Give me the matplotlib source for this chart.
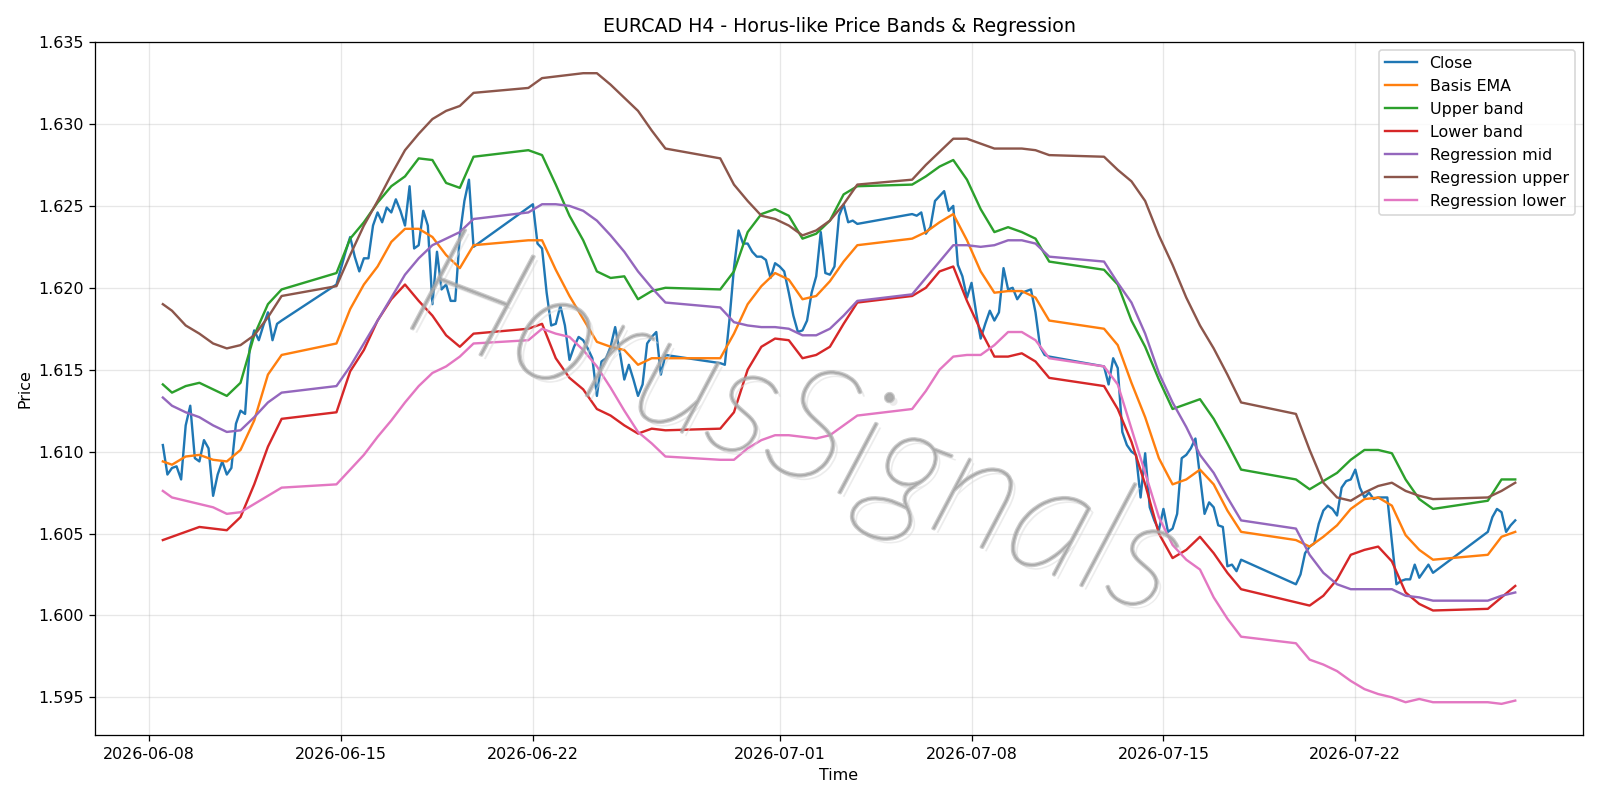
import numpy as np
import pandas as pd
import matplotlib
matplotlib.use("Agg")
import matplotlib.pyplot as plt
import matplotlib.patheffects as pe

# Close price, one value per H4 bar (week by week, Sun 20:00 -> Fri 20:00)
close = [
    # week of 06-08 (starts Mon 12:00)
    1.6104, 1.6086, 1.6090, 1.6091, 1.6083, 1.6116, 1.6128, 1.6096, 1.6094, 1.6107,
    1.6102, 1.6073, 1.6086, 1.6094, 1.6086, 1.6090, 1.6117, 1.6125, 1.6123, 1.6163,
    1.6174, 1.6168, 1.6177, 1.6185, 1.6168, 1.6178, 1.6180,
    # week of 06-15
    1.6202, 1.6212, 1.6222, 1.6231, 1.6219, 1.6210, 1.6218, 1.6218, 1.6238, 1.6246,
    1.6240, 1.6249, 1.6246, 1.6254, 1.6247, 1.6238, 1.6262, 1.6224, 1.6226, 1.6247,
    1.6238, 1.6190, 1.6222, 1.6199, 1.6202, 1.6192, 1.6192, 1.6232, 1.6253, 1.6266,
    1.6225,
    # week of 06-22
    1.6249, 1.6251, 1.6227, 1.6224, 1.6197, 1.6177, 1.6178, 1.6189, 1.6177, 1.6156,
    1.6164, 1.6170, 1.6168, 1.6163, 1.6157, 1.6134, 1.6155, 1.6157, 1.6164, 1.6176,
    1.6161, 1.6144, 1.6153, 1.6144, 1.6134, 1.6141, 1.6166, 1.6170, 1.6173, 1.6147,
    1.6159,
    # week of 06-29
    1.6154, 1.6153, 1.6180, 1.6212, 1.6235, 1.6227, 1.6227, 1.6222, 1.6219, 1.6219,
    1.6217, 1.6206, 1.6215, 1.6213, 1.6210, 1.6197, 1.6183, 1.6173, 1.6174, 1.6180,
    1.6197, 1.6207, 1.6234, 1.6209, 1.6208, 1.6213, 1.6244, 1.6251, 1.6240, 1.6241,
    1.6239,
    # week of 07-06
    1.6245, 1.6244, 1.6246, 1.6233, 1.6237, 1.6253, 1.6256, 1.6259, 1.6247, 1.6250,
    1.6214, 1.6207, 1.6194, 1.6203, 1.6185, 1.6169, 1.6178, 1.6186, 1.6180, 1.6185,
    1.6212, 1.6199, 1.6200, 1.6193, 1.6197, 1.6198, 1.6199, 1.6185, 1.6164, 1.6159,
    1.6158,
    # week of 07-13
    1.6152, 1.6141, 1.6157, 1.6151, 1.6112, 1.6104, 1.6100, 1.6098, 1.6072, 1.6099,
    1.6066, 1.6058, 1.6052, 1.6065, 1.6051, 1.6053, 1.6062, 1.6096, 1.6098, 1.6102,
    1.6108, 1.6085, 1.6062, 1.6069, 1.6066, 1.6055, 1.6054, 1.6030, 1.6031, 1.6027,
    1.6034,
    # week of 07-20
    1.6019, 1.6025, 1.6038, 1.6042, 1.6044, 1.6056, 1.6064, 1.6067, 1.6065, 1.6061,
    1.6078, 1.6082, 1.6083, 1.6089, 1.6078, 1.6072, 1.6075, 1.6071, 1.6072, 1.6072,
    1.6072, 1.6045, 1.6019, 1.6021, 1.6022, 1.6022, 1.6031, 1.6023, 1.6027, 1.6031,
    1.6026,
    # week of 07-27
    1.6051, 1.6060, 1.6065, 1.6063, 1.6051, 1.6055, 1.6058,
]

# Smoother lines, read every 3rd bar (12h) plus the first bar
basis_ema = [
    1.6094, 1.6092, 1.6097, 1.6098, 1.6095, 1.6094, 1.6101, 1.6119, 1.6147, 1.6159,
    1.6166, 1.6187, 1.6202, 1.6213, 1.6228, 1.6236, 1.6236, 1.6231, 1.6220, 1.6212, 1.6226,
    1.6229, 1.6229, 1.6211, 1.6195, 1.6181, 1.6167, 1.6164, 1.6162, 1.6153, 1.6157, 1.6157,
    1.6157, 1.6172, 1.6190, 1.6201, 1.6209, 1.6205, 1.6193, 1.6195, 1.6204, 1.6216, 1.6226,
    1.6230, 1.6234, 1.6240, 1.6245, 1.6229, 1.6210, 1.6197, 1.6198, 1.6198, 1.6194, 1.6180,
    1.6175, 1.6165, 1.6142, 1.6121, 1.6096, 1.6080, 1.6083, 1.6089, 1.6080, 1.6064, 1.6051,
    1.6046, 1.6042, 1.6048, 1.6055, 1.6065, 1.6071, 1.6072, 1.6067, 1.6049, 1.6040, 1.6034,
    1.6037, 1.6048, 1.6051,
]
upper_band = [
    1.6141, 1.6136, 1.6140, 1.6142, 1.6138, 1.6134, 1.6142, 1.6171, 1.6190, 1.6199,
    1.6209, 1.6230, 1.6240, 1.6252, 1.6262, 1.6268, 1.6279, 1.6278, 1.6264, 1.6261, 1.6280,
    1.6284, 1.6281, 1.6263, 1.6244, 1.6229, 1.6210, 1.6206, 1.6207, 1.6193, 1.6198, 1.6200,
    1.6199, 1.6210, 1.6234, 1.6245, 1.6248, 1.6244, 1.6230, 1.6233, 1.6241, 1.6257, 1.6262,
    1.6263, 1.6268, 1.6274, 1.6278, 1.6266, 1.6248, 1.6234, 1.6237, 1.6234, 1.6230, 1.6216,
    1.6211, 1.6202, 1.6180, 1.6164, 1.6144, 1.6126, 1.6129, 1.6132, 1.6120, 1.6105, 1.6089,
    1.6083, 1.6077, 1.6082, 1.6087, 1.6095, 1.6101, 1.6101, 1.6099, 1.6083, 1.6071, 1.6065,
    1.6070, 1.6083, 1.6083,
]
lower_band = [
    1.6046, 1.6048, 1.6051, 1.6054, 1.6053, 1.6052, 1.6060, 1.6080, 1.6103, 1.6120,
    1.6124, 1.6149, 1.6162, 1.6180, 1.6193, 1.6202, 1.6192, 1.6183, 1.6171, 1.6164, 1.6172,
    1.6175, 1.6178, 1.6157, 1.6145, 1.6138, 1.6126, 1.6122, 1.6116, 1.6111, 1.6114, 1.6113,
    1.6114, 1.6124, 1.6150, 1.6164, 1.6169, 1.6168, 1.6157, 1.6159, 1.6164, 1.6178, 1.6191,
    1.6195, 1.6200, 1.6210, 1.6213, 1.6192, 1.6174, 1.6158, 1.6158, 1.6160, 1.6155, 1.6145,
    1.6140, 1.6126, 1.6106, 1.6080, 1.6050, 1.6035, 1.6040, 1.6048, 1.6038, 1.6026, 1.6016,
    1.6008, 1.6006, 1.6012, 1.6022, 1.6037, 1.6040, 1.6042, 1.6033, 1.6014, 1.6007, 1.6003,
    1.6004, 1.6011, 1.6018,
]
reg_mid = [
    1.6133, 1.6128, 1.6124, 1.6121, 1.6116, 1.6112, 1.6113, 1.6121, 1.6130, 1.6136,
    1.6140, 1.6152, 1.6166, 1.6180, 1.6194, 1.6208, 1.6218, 1.6226, 1.6230, 1.6234, 1.6242,
    1.6246, 1.6251, 1.6251, 1.6250, 1.6247, 1.6241, 1.6232, 1.6222, 1.6210, 1.6200, 1.6191,
    1.6188, 1.6179, 1.6177, 1.6176, 1.6176, 1.6175, 1.6171, 1.6171, 1.6175, 1.6183, 1.6192,
    1.6196, 1.6206, 1.6216, 1.6226, 1.6226, 1.6225, 1.6226, 1.6229, 1.6229, 1.6227, 1.6219,
    1.6216, 1.6203, 1.6191, 1.6172, 1.6148, 1.6130, 1.6115, 1.6098, 1.6087, 1.6072, 1.6058,
    1.6053, 1.6037, 1.6026, 1.6019, 1.6016, 1.6016, 1.6016, 1.6016, 1.6012, 1.6011, 1.6009,
    1.6009, 1.6012, 1.6014,
]
reg_upper = [
    1.6190, 1.6186, 1.6177, 1.6172, 1.6166, 1.6163, 1.6165, 1.6171, 1.6182, 1.6195,
    1.6201, 1.6220, 1.6238, 1.6253, 1.6269, 1.6284, 1.6294, 1.6303, 1.6308, 1.6311, 1.6319,
    1.6322, 1.6328, 1.6329, 1.6330, 1.6331, 1.6331, 1.6324, 1.6316, 1.6308, 1.6296, 1.6285,
    1.6279, 1.6263, 1.6253, 1.6244, 1.6242, 1.6238, 1.6232, 1.6235, 1.6241, 1.6251, 1.6263,
    1.6266, 1.6275, 1.6283, 1.6291, 1.6291, 1.6288, 1.6285, 1.6285, 1.6285, 1.6284, 1.6281,
    1.6280, 1.6272, 1.6265, 1.6253, 1.6232, 1.6214, 1.6194, 1.6177, 1.6163, 1.6147, 1.6130,
    1.6123, 1.6101, 1.6081, 1.6072, 1.6070, 1.6075, 1.6079, 1.6081, 1.6076, 1.6073, 1.6071,
    1.6072, 1.6076, 1.6081,
]
reg_lower = [
    1.6076, 1.6072, 1.6070, 1.6068, 1.6066, 1.6062, 1.6063, 1.6068, 1.6073, 1.6078,
    1.6080, 1.6089, 1.6098, 1.6109, 1.6119, 1.6130, 1.6140, 1.6148, 1.6152, 1.6158, 1.6166,
    1.6168, 1.6175, 1.6172, 1.6170, 1.6162, 1.6152, 1.6139, 1.6125, 1.6112, 1.6105, 1.6097,
    1.6095, 1.6095, 1.6102, 1.6107, 1.6110, 1.6110, 1.6109, 1.6108, 1.6110, 1.6116, 1.6122,
    1.6126, 1.6137, 1.6150, 1.6158, 1.6159, 1.6159, 1.6165, 1.6173, 1.6173, 1.6168, 1.6157,
    1.6152, 1.6141, 1.6114, 1.6087, 1.6060, 1.6043, 1.6034, 1.6028, 1.6011, 1.5998, 1.5987,
    1.5983, 1.5973, 1.5970, 1.5966, 1.5960, 1.5955, 1.5952, 1.5950, 1.5947, 1.5949, 1.5947,
    1.5947, 1.5946, 1.5948,
]


# H4 bar timestamps, forex week: Sunday 20:00 to Friday 20:00
def bar_times():
    t = pd.date_range("2026-06-08 12:00", "2026-07-27 20:00", freq="4h")
    shifted = t + pd.Timedelta(hours=4)
    slot = np.asarray(shifted.dayofweek * 6 + shifted.hour // 4)
    keep = slot <= 30
    return t[keep], slot[keep]


def main():
    times, slot = bar_times()
    assert len(times) == len(close)

    # every 3rd bar of the week, plus the very first bar
    pick = (slot % 3 == 0)
    pick[0] = True
    t_s = times[pick]
    assert len(t_s) == len(basis_ema)

    fig, ax = plt.subplots(figsize=(14, 7), dpi=1600 / 14)
    ax.plot(times, close, label="Close")
    ax.plot(t_s, basis_ema, label="Basis EMA")
    ax.plot(t_s, upper_band, label="Upper band")
    ax.plot(t_s, lower_band, label="Lower band")
    ax.plot(t_s, reg_mid, label="Regression mid")
    ax.plot(t_s, reg_upper, label="Regression upper")
    ax.plot(t_s, reg_lower, label="Regression lower")

    # watermark: thin italic grey letters with a soft shadow
    wm = "#a8a8a8"
    ax.text(0.47, 0.44, "HorusSignals", transform=ax.transAxes,
            fontsize=100, rotation=-21, color=wm, alpha=0.6,
            family="Lato", fontweight=100, style="italic",
            ha="center", va="center", zorder=3,
            path_effects=[pe.withSimplePatchShadow(offset=(2.5, -2.5), shadow_rgbFace="#dadada", alpha=0.5),
                          pe.Stroke(linewidth=1.8, foreground=wm, alpha=0.6),
                          pe.Normal()])

    ax.set_title("EURCAD H4 - Horus-like Price Bands & Regression")
    ax.set_xlabel("Time")
    ax.set_ylabel("Price")
    ax.grid(True, alpha=0.3)
    ax.legend(loc="upper right")
    fig.tight_layout()
    fig.savefig("out.png")


if __name__ == "__main__":
    main()
